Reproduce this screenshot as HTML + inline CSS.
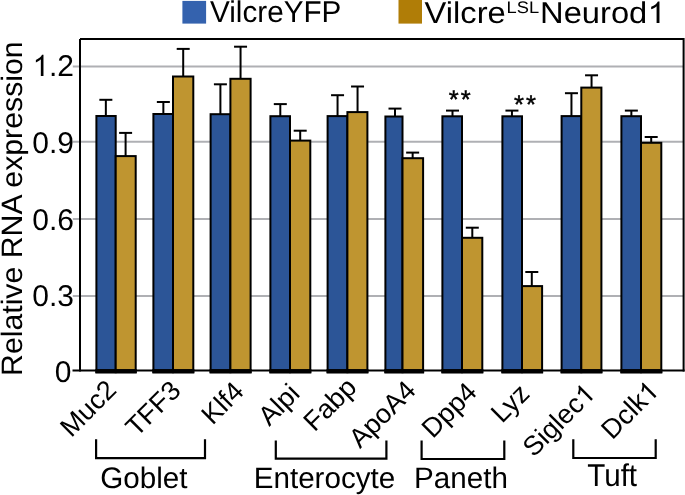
<!DOCTYPE html>
<html><head><meta charset="utf-8"><style>
html,body{margin:0;padding:0;background:#fff;width:685px;height:495px;overflow:hidden}
svg{display:block}
#w{will-change:transform;width:685px;height:495px}
text{font-family:"Liberation Sans",sans-serif;fill:#000;text-rendering:geometricPrecision}
.t30{font-size:30px}
.yt{font-size:29.5px}
.leg{font-size:30px}
.sup{font-size:16.8px}
.xl{font-size:27px}
g.xl text{font-size:27px}
.ast{font-size:25.5px;letter-spacing:2px;stroke:#000;stroke-width:0.45px}
.grp{font-size:29.6px}
</style></head><body><div id="w">
<svg width="685" height="495" viewBox="0 0 685 495">
<rect width="685" height="495" fill="#fff"/>
<line x1="72.8" y1="66.5" x2="683" y2="66.5" stroke="#afb0b4" stroke-width="2"/>
<line x1="72.8" y1="141.7" x2="683" y2="141.7" stroke="#afb0b4" stroke-width="2"/>
<line x1="72.8" y1="218.9" x2="683" y2="218.9" stroke="#afb0b4" stroke-width="2"/>
<line x1="72.8" y1="295.9" x2="683" y2="295.9" stroke="#afb0b4" stroke-width="2"/>
<line x1="105.85" y1="116.00" x2="105.85" y2="99.80" stroke="#000" stroke-width="2"/>
<line x1="99.35" y1="99.80" x2="112.35" y2="99.80" stroke="#000" stroke-width="2"/>
<line x1="125.60" y1="156.10" x2="125.60" y2="132.90" stroke="#000" stroke-width="2"/>
<line x1="119.10" y1="132.90" x2="132.10" y2="132.90" stroke="#000" stroke-width="2"/>
<line x1="163.35" y1="114.00" x2="163.35" y2="102.00" stroke="#000" stroke-width="2"/>
<line x1="156.85" y1="102.00" x2="169.85" y2="102.00" stroke="#000" stroke-width="2"/>
<line x1="183.20" y1="76.50" x2="183.20" y2="48.90" stroke="#000" stroke-width="2"/>
<line x1="176.70" y1="48.90" x2="189.70" y2="48.90" stroke="#000" stroke-width="2"/>
<line x1="220.40" y1="114.20" x2="220.40" y2="84.30" stroke="#000" stroke-width="2"/>
<line x1="213.90" y1="84.30" x2="226.90" y2="84.30" stroke="#000" stroke-width="2"/>
<line x1="240.55" y1="78.80" x2="240.55" y2="46.70" stroke="#000" stroke-width="2"/>
<line x1="234.05" y1="46.70" x2="247.05" y2="46.70" stroke="#000" stroke-width="2"/>
<line x1="280.30" y1="116.20" x2="280.30" y2="104.10" stroke="#000" stroke-width="2"/>
<line x1="273.80" y1="104.10" x2="286.80" y2="104.10" stroke="#000" stroke-width="2"/>
<line x1="300.20" y1="140.60" x2="300.20" y2="130.70" stroke="#000" stroke-width="2"/>
<line x1="293.70" y1="130.70" x2="306.70" y2="130.70" stroke="#000" stroke-width="2"/>
<line x1="337.55" y1="116.10" x2="337.55" y2="95.20" stroke="#000" stroke-width="2"/>
<line x1="331.05" y1="95.20" x2="344.05" y2="95.20" stroke="#000" stroke-width="2"/>
<line x1="357.55" y1="112.10" x2="357.55" y2="86.50" stroke="#000" stroke-width="2"/>
<line x1="351.05" y1="86.50" x2="364.05" y2="86.50" stroke="#000" stroke-width="2"/>
<line x1="395.00" y1="116.50" x2="395.00" y2="108.60" stroke="#000" stroke-width="2"/>
<line x1="388.50" y1="108.60" x2="401.50" y2="108.60" stroke="#000" stroke-width="2"/>
<line x1="412.65" y1="158.20" x2="412.65" y2="152.60" stroke="#000" stroke-width="2"/>
<line x1="406.15" y1="152.60" x2="419.15" y2="152.60" stroke="#000" stroke-width="2"/>
<line x1="452.50" y1="116.30" x2="452.50" y2="110.60" stroke="#000" stroke-width="2"/>
<line x1="446.00" y1="110.60" x2="459.00" y2="110.60" stroke="#000" stroke-width="2"/>
<line x1="472.30" y1="237.80" x2="472.30" y2="227.70" stroke="#000" stroke-width="2"/>
<line x1="465.80" y1="227.70" x2="478.80" y2="227.70" stroke="#000" stroke-width="2"/>
<line x1="511.95" y1="116.30" x2="511.95" y2="110.60" stroke="#000" stroke-width="2"/>
<line x1="505.45" y1="110.60" x2="518.45" y2="110.60" stroke="#000" stroke-width="2"/>
<line x1="531.80" y1="286.10" x2="531.80" y2="272.00" stroke="#000" stroke-width="2"/>
<line x1="525.30" y1="272.00" x2="538.30" y2="272.00" stroke="#000" stroke-width="2"/>
<line x1="571.45" y1="116.10" x2="571.45" y2="93.20" stroke="#000" stroke-width="2"/>
<line x1="564.95" y1="93.20" x2="577.95" y2="93.20" stroke="#000" stroke-width="2"/>
<line x1="591.55" y1="87.60" x2="591.55" y2="75.30" stroke="#000" stroke-width="2"/>
<line x1="585.05" y1="75.30" x2="598.05" y2="75.30" stroke="#000" stroke-width="2"/>
<line x1="631.35" y1="116.20" x2="631.35" y2="110.60" stroke="#000" stroke-width="2"/>
<line x1="624.85" y1="110.60" x2="637.85" y2="110.60" stroke="#000" stroke-width="2"/>
<line x1="651.20" y1="142.80" x2="651.20" y2="137.00" stroke="#000" stroke-width="2"/>
<line x1="644.70" y1="137.00" x2="657.70" y2="137.00" stroke="#000" stroke-width="2"/>
<rect x="96.40" y="116.00" width="19.30" height="256.20" fill="#2c5597" stroke="#000" stroke-width="2"/>
<rect x="115.70" y="156.10" width="20.00" height="216.10" fill="#bf9530" stroke="#000" stroke-width="2"/>
<rect x="153.40" y="114.00" width="19.60" height="258.20" fill="#2c5597" stroke="#000" stroke-width="2"/>
<rect x="173.00" y="76.50" width="20.30" height="295.70" fill="#bf9530" stroke="#000" stroke-width="2"/>
<rect x="210.60" y="114.20" width="19.80" height="258.00" fill="#2c5597" stroke="#000" stroke-width="2"/>
<rect x="230.40" y="78.80" width="20.20" height="293.40" fill="#bf9530" stroke="#000" stroke-width="2"/>
<rect x="270.40" y="116.20" width="19.60" height="256.00" fill="#2c5597" stroke="#000" stroke-width="2"/>
<rect x="290.00" y="140.60" width="20.30" height="231.60" fill="#bf9530" stroke="#000" stroke-width="2"/>
<rect x="327.60" y="116.10" width="19.80" height="256.10" fill="#2c5597" stroke="#000" stroke-width="2"/>
<rect x="347.40" y="112.10" width="20.00" height="260.10" fill="#bf9530" stroke="#000" stroke-width="2"/>
<rect x="385.40" y="116.50" width="17.10" height="255.70" fill="#2c5597" stroke="#000" stroke-width="2"/>
<rect x="402.50" y="158.20" width="20.60" height="214.00" fill="#bf9530" stroke="#000" stroke-width="2"/>
<rect x="442.40" y="116.30" width="19.60" height="255.90" fill="#2c5597" stroke="#000" stroke-width="2"/>
<rect x="462.00" y="237.80" width="20.30" height="134.40" fill="#bf9530" stroke="#000" stroke-width="2"/>
<rect x="502.40" y="116.30" width="19.60" height="255.90" fill="#2c5597" stroke="#000" stroke-width="2"/>
<rect x="522.00" y="286.10" width="20.10" height="86.10" fill="#bf9530" stroke="#000" stroke-width="2"/>
<rect x="561.60" y="116.10" width="19.70" height="256.10" fill="#2c5597" stroke="#000" stroke-width="2"/>
<rect x="581.30" y="87.60" width="20.10" height="284.60" fill="#bf9530" stroke="#000" stroke-width="2"/>
<rect x="621.40" y="116.20" width="19.60" height="256.00" fill="#2c5597" stroke="#000" stroke-width="2"/>
<rect x="641.00" y="142.80" width="20.30" height="229.40" fill="#bf9530" stroke="#000" stroke-width="2"/>
<path d="M80 39 H683.6 V371.6 M80 39 V371.6" fill="none" stroke="#000" stroke-width="2"/>
<line x1="72.5" y1="370.6" x2="684.6" y2="370.6" stroke="#000" stroke-width="2"/>
<rect x="95.40" y="369.1" width="41.30" height="4.3" fill="#000"/>
<rect x="152.40" y="369.1" width="41.90" height="4.3" fill="#000"/>
<rect x="209.60" y="369.1" width="42.00" height="4.3" fill="#000"/>
<rect x="269.40" y="369.1" width="41.90" height="4.3" fill="#000"/>
<rect x="326.60" y="369.1" width="41.80" height="4.3" fill="#000"/>
<rect x="384.40" y="369.1" width="39.70" height="4.3" fill="#000"/>
<rect x="441.40" y="369.1" width="41.90" height="4.3" fill="#000"/>
<rect x="501.40" y="369.1" width="41.70" height="4.3" fill="#000"/>
<rect x="560.60" y="369.1" width="41.80" height="4.3" fill="#000"/>
<rect x="620.40" y="369.1" width="41.90" height="4.3" fill="#000"/>
<g class="t30"><text x="74" y="76.1" text-anchor="end">.2</text><path transform="translate(32.296,76.100) scale(0.014648,-0.014648)" d="M763,0 L583,0 L583,1147 Q518,1085 432,1023 Q346,961 244,932 L244,1106 Q398,1178 514,1263 Q621,1359 664,1466 L763,1466 Z"/></g>
<text x="74" y="152.9" text-anchor="end" class="t30">0.9</text>
<text x="74" y="229.6" text-anchor="end" class="t30">0.6</text>
<text x="74" y="306.1" text-anchor="end" class="t30">0.3</text>
<text x="71.5" y="382.3" text-anchor="end" class="t30">0</text>
<text transform="translate(21.8,375.97) rotate(-90) scale(1.0255,1)" class="yt">Relative RNA expression</text>
<rect x="182.4" y="0.9" width="23.7" height="22.7" fill="#3462ae"/>
<text transform="translate(210,22.45) scale(0.989,1)" class="leg">VilcreYFP</text>
<rect x="398.5" y="0" width="23.5" height="23.6" fill="#b07d07"/>
<g transform="translate(424.6,0) scale(1.09,1)"><text x="0" y="23" class="leg">Vilcre</text><text x="75.2" y="13.1" class="sup">LSL</text><text x="105.9" y="23" class="leg">Neurod</text><path transform="translate(204.294,23.000) scale(0.014648,-0.014648)" d="M763,0 L583,0 L583,1147 Q518,1085 432,1023 Q346,961 244,932 L244,1106 Q398,1178 514,1263 Q621,1359 664,1466 L763,1466 Z"/></g>
<text transform="translate(117.9,391.45) rotate(-45)" text-anchor="end" class="xl">Muc2</text>
<text transform="translate(182.3,392.2) rotate(-45)" text-anchor="end" class="xl">TFF3</text>
<text transform="translate(245.4,392.8) rotate(-45)" text-anchor="end" class="xl">Klf4</text>
<text transform="translate(301.2,395.05) rotate(-45)" text-anchor="end" class="xl">Alpi</text>
<text transform="translate(358.1,389) rotate(-45)" text-anchor="end" class="xl">Fabp</text>
<text transform="translate(417.3,391.9) rotate(-45)" text-anchor="end" class="xl">ApoA4</text>
<text transform="translate(478.4,393.55) rotate(-45)" text-anchor="end" class="xl">Dpp4</text>
<text transform="translate(531.0,395.1) rotate(-45)" text-anchor="end" class="xl">Lyz</text>
<g class="xl" transform="translate(596.4,395.45) rotate(-45)"><text x="-15.016" y="0" text-anchor="end">Siglec</text><path transform="translate(-15.016,0.000) scale(0.013184,-0.013184)" d="M763,0 L583,0 L583,1147 Q518,1085 432,1023 Q346,961 244,932 L244,1106 Q398,1178 514,1263 Q621,1359 664,1466 L763,1466 Z"/></g>
<g class="xl" transform="translate(660.0,392.7) rotate(-45)"><text x="-15.016" y="0" text-anchor="end">Dclk</text><path transform="translate(-15.016,0.000) scale(0.013184,-0.013184)" d="M763,0 L583,0 L583,1147 Q518,1085 432,1023 Q346,961 244,932 L244,1106 Q398,1178 514,1263 Q621,1359 664,1466 L763,1466 Z"/></g>
<text x="460.75" y="107.7" text-anchor="middle" class="ast">**</text>
<text x="525.95" y="113.35" text-anchor="middle" class="ast">**</text>
<path d="M96.1 439.3 V458.2 H205.0 V439.3" fill="none" stroke="#000" stroke-width="2.2"/>
<path d="M275.8 440.5 V458.7 H386.4 V440.5" fill="none" stroke="#000" stroke-width="2.2"/>
<path d="M421.6 440.4 V459 H504.3 V440.4" fill="none" stroke="#000" stroke-width="2.2"/>
<path d="M573.3 439.2 V458 H655.7 V439.2" fill="none" stroke="#000" stroke-width="2.2"/>
<text transform="translate(143.85,488) scale(1,1)" text-anchor="middle" class="grp">Goblet</text>
<text transform="translate(324.45,488) scale(1,1)" text-anchor="middle" class="grp">Enterocyte</text>
<text transform="translate(461,487.5) scale(1,1)" text-anchor="middle" class="grp">Paneth</text>
<text transform="translate(612.15,485.8) scale(1,1.065)" text-anchor="middle" class="grp">Tuft</text>
</svg></div>
</body></html>
